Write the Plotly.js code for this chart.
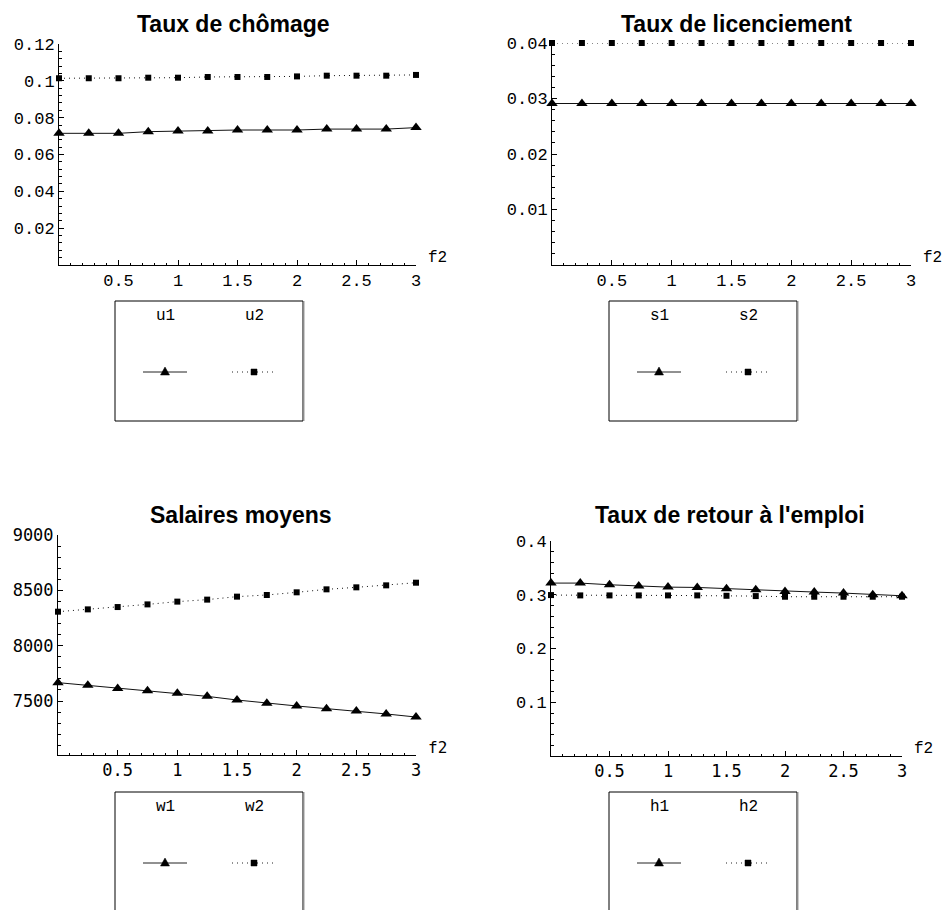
<!DOCTYPE html>
<html><head><meta charset="utf-8">
<script src="https://cdn.plot.ly/plotly-3.0.1.min.js"></script>
<style>body{margin:0;background:#fff}#c{width:947px;height:910px}</style>
</head><body><div id="c"></div>
<script>
// ---------- data ----------
const f2 = [0, 0.25, 0.5, 0.75, 1, 1.25, 1.5, 1.75, 2, 2.25, 2.5, 2.75, 3];

const u1 = [0.0715, 0.0715, 0.0715, 0.0724, 0.0728, 0.0728, 0.0733, 0.0733, 0.0733, 0.0738, 0.0738, 0.0738, 0.0746];
const u2 = [0.1014, 0.1014, 0.1014, 0.1017, 0.1017, 0.1021, 0.1021, 0.1021, 0.1024, 0.1028, 0.1028, 0.1028, 0.1032];

const s1 = [0.0291, 0.0291, 0.0291, 0.0291, 0.0291, 0.0291, 0.0291, 0.0291, 0.0291, 0.0291, 0.0291, 0.0291, 0.0291];
const s2 = [0.04, 0.04, 0.04, 0.04, 0.04, 0.04, 0.04, 0.04, 0.04, 0.04, 0.04, 0.04, 0.04];

const w1 = [7666, 7642, 7614, 7593, 7569, 7542, 7509, 7479, 7455, 7431, 7410, 7383, 7355];
const w2 = [8307, 8328, 8349, 8373, 8398, 8416, 8443, 8458, 8482, 8509, 8527, 8545, 8569];

const h1 = [0.3217, 0.3217, 0.3186, 0.3161, 0.3142, 0.3136, 0.3111, 0.3093, 0.3062, 0.3050, 0.3031, 0.3000, 0.2981];
const h2 = [0.2994, 0.2988, 0.2988, 0.2988, 0.2988, 0.2988, 0.2981, 0.2975, 0.2963, 0.2963, 0.2963, 0.2963, 0.2963];

const titles = ["Taux de chômage", "Taux de licenciement", "Salaires moyens", "Taux de retour à l'emploi"];
const seriesNames = [["u1", "u2"], ["s1", "s2"], ["w1", "w2"], ["h1", "h2"]];
const xAxisLabel = "f2";

const xTicks = [0.5, 1, 1.5, 2, 2.5, 3];
const xTickText = ["0.5", "1", "1.5", "2", "2.5", "3"];
const yTicks1 = [0.02, 0.04, 0.06, 0.08, 0.1, 0.12];
const yTickText1 = ["0.02", "0.04", "0.06", "0.08", "0.1", "0.12"];
const yTicks2 = [0.01, 0.02, 0.03, 0.04];
const yTickText2 = ["0.01", "0.02", "0.03", "0.04"];
const yTicks3 = [7500, 8000, 8500, 9000];
const yTickText3 = ["7500", "8000", "8500", "9000"];
const yTicks4 = [0.1, 0.2, 0.3, 0.4];
const yTickText4 = ["0.1", "0.2", "0.3", "0.4"];

// ---------- layout helpers ----------
const W = 947, H = 910;
const px = x => x / W, py = y => 1 - y / H;
const MONO = "Liberation Mono, Courier New, monospace";
const SMONO = "DejaVu Sans Mono, monospace";
const TITLEF = "Liberation Sans, Arial, sans-serif";

const panels = [
  {s: [u1, u2], dom: [59, 416, 44, 265], range: [0, 0.12], yt: yTicks1, ytt: yTickText1, ymin: 0.004,
   xfont: MONO, yfont: MONO, ffont: MONO, tx: 233, ty: 24, leg: [115, 301]},
  {s: [s1, s2], dom: [552, 911, 43, 265], range: [0, 0.04], yt: yTicks2, ytt: yTickText2, ymin: 0.002,
   xfont: MONO, yfont: MONO, ffont: MONO, tx: 736, ty: 24, leg: [609, 301]},
  {s: [w1, w2], dom: [58, 416, 535, 755], range: [7012, 9000], yt: yTicks3, ytt: yTickText3, ymin: 100,
   xfont: SMONO, yfont: SMONO, ffont: SMONO, tx: 241, ty: 515, leg: [115, 792]},
  {s: [h1, h2], dom: [551, 902, 541, 756], range: [0, 0.4], yt: yTicks4, ytt: yTickText4, ymin: 0.02,
   xfont: SMONO, yfont: MONO, ffont: MONO, tx: 730, ty: 515, leg: [609, 792]}
];

const data = [];
const layout = {
  width: W, height: H, margin: {l: 0, r: 0, t: 0, b: 0},
  paper_bgcolor: '#fff', plot_bgcolor: 'rgba(0,0,0,0)',
  showlegend: false, shapes: [], annotations: []
};

panels.forEach((p, i) => {
  const n = i + 1;
  const xa = 'x' + (n === 1 ? '' : n), ya = 'y' + (n === 1 ? '' : n);
  const xk = 'xaxis' + (n === 1 ? '' : n), yk = 'yaxis' + (n === 1 ? '' : n);
  // series 1: solid line with triangles
  data.push({x: f2, y: p.s[0], xaxis: xa, yaxis: ya, type: 'scatter', mode: 'lines+markers',
    name: seriesNames[i][0], cliponaxis: false,
    line: {color: '#111', width: 1},
    marker: {symbol: 'triangle-up', size: 10, color: '#000'}});
  // series 2: dotted line with squares
  data.push({x: f2, y: p.s[1], xaxis: xa, yaxis: ya, type: 'scatter', mode: 'lines+markers',
    name: seriesNames[i][1], cliponaxis: false,
    line: {color: '#111', width: 1, dash: '1px,4px'},
    marker: {symbol: 'square', size: 6, color: '#000'}});

  layout[xk] = {
    domain: [px(p.dom[0]), px(p.dom[1])], range: [0, 3], anchor: ya,
    showline: true, linecolor: '#000', linewidth: 1, showgrid: false, zeroline: false,
    ticks: 'inside', ticklen: 5, tickwidth: 1, tickcolor: '#000',
    tickmode: 'array', tickvals: xTicks, ticktext: xTickText,
    tickfont: {family: p.xfont, size: 17, color: '#000'},
    minor: {ticks: 'inside', dtick: 0.1, tick0: 0, ticklen: 2.5, tickcolor: '#000', tickwidth: 1, showgrid: false}
  };
  layout[yk] = {
    domain: [py(p.dom[3]), py(p.dom[2])], range: p.range, anchor: xa,
    showline: true, linecolor: '#000', linewidth: 1, showgrid: false, zeroline: false,
    ticks: 'inside', ticklen: 5, tickwidth: 1, tickcolor: '#000',
    tickmode: 'array', tickvals: p.yt, ticktext: p.ytt,
    tickfont: {family: p.yfont, size: 17, color: '#000'},
    minor: {ticks: 'inside', dtick: p.ymin, tick0: 0, ticklen: 2.5, tickcolor: '#000', tickwidth: 1, showgrid: false}
  };

  // title
  layout.annotations.push({text: '<b>' + titles[i] + '</b>', xref: 'paper', yref: 'paper',
    x: px(p.tx), y: py(p.ty), xanchor: 'center', yanchor: 'middle', showarrow: false,
    font: {family: TITLEF, size: 23, color: '#000'}});
  // f2 axis label
  layout.annotations.push({text: xAxisLabel, xref: xa, yref: ya, x: 3, y: p.range[0],
    xanchor: 'left', yanchor: 'bottom', xshift: 10, yshift: -4, showarrow: false,
    font: {family: p.ffont, size: 16, color: '#000'}});

  // legend box (Mathematica style)
  const L = p.leg[0], T = p.leg[1], BW = 188, BH = 120;
  layout.shapes.push({type: 'rect', xref: 'paper', yref: 'paper',
    x0: px(L), x1: px(L + BW), y0: py(T + BH), y1: py(T), line: {color: '#000', width: 1}});
  layout.shapes.push({type: 'line', xref: 'paper', yref: 'paper',
    x0: px(L + BW + 1), x1: px(L + BW + 1), y0: py(T + BH), y1: py(T), line: {color: '#999', width: 1}});
  const c1 = L + 50, c2 = L + 139, ly = T + 71;
  layout.annotations.push({text: seriesNames[i][0], xref: 'paper', yref: 'paper', x: px(c1), y: py(T + 15),
    xanchor: 'center', yanchor: 'middle', showarrow: false, font: {family: MONO, size: 16, color: '#000'}});
  layout.annotations.push({text: seriesNames[i][1], xref: 'paper', yref: 'paper', x: px(c2), y: py(T + 15),
    xanchor: 'center', yanchor: 'middle', showarrow: false, font: {family: MONO, size: 16, color: '#000'}});
  layout.shapes.push({type: 'line', xref: 'paper', yref: 'paper', x0: px(c1 - 22), x1: px(c1 + 22),
    y0: py(ly), y1: py(ly), line: {color: '#222', width: 1}});
  layout.shapes.push({type: 'line', xref: 'paper', yref: 'paper', x0: px(c2 - 22), x1: px(c2 + 22),
    y0: py(ly), y1: py(ly), line: {color: '#222', width: 1, dash: '1px,4px'}});
  layout.shapes.push({type: 'path', xref: 'paper', yref: 'paper',
    path: `M ${px(c1 - 4.5)} ${py(ly + 3)} L ${px(c1 + 4.5)} ${py(ly + 3)} L ${px(c1)} ${py(ly - 5)} Z`,
    fillcolor: '#000', line: {color: '#000', width: 0.5}});
  layout.shapes.push({type: 'path', xref: 'paper', yref: 'paper',
    path: `M ${px(c2 - 3)} ${py(ly - 3)} L ${px(c2 + 3)} ${py(ly - 3)} L ${px(c2 + 3)} ${py(ly + 3)} L ${px(c2 - 3)} ${py(ly + 3)} Z`,
    fillcolor: '#000', line: {color: '#000', width: 0.5}});
});

Plotly.newPlot('c', data, layout, {staticPlot: true, displayModeBar: false});
</script>
</body></html>
